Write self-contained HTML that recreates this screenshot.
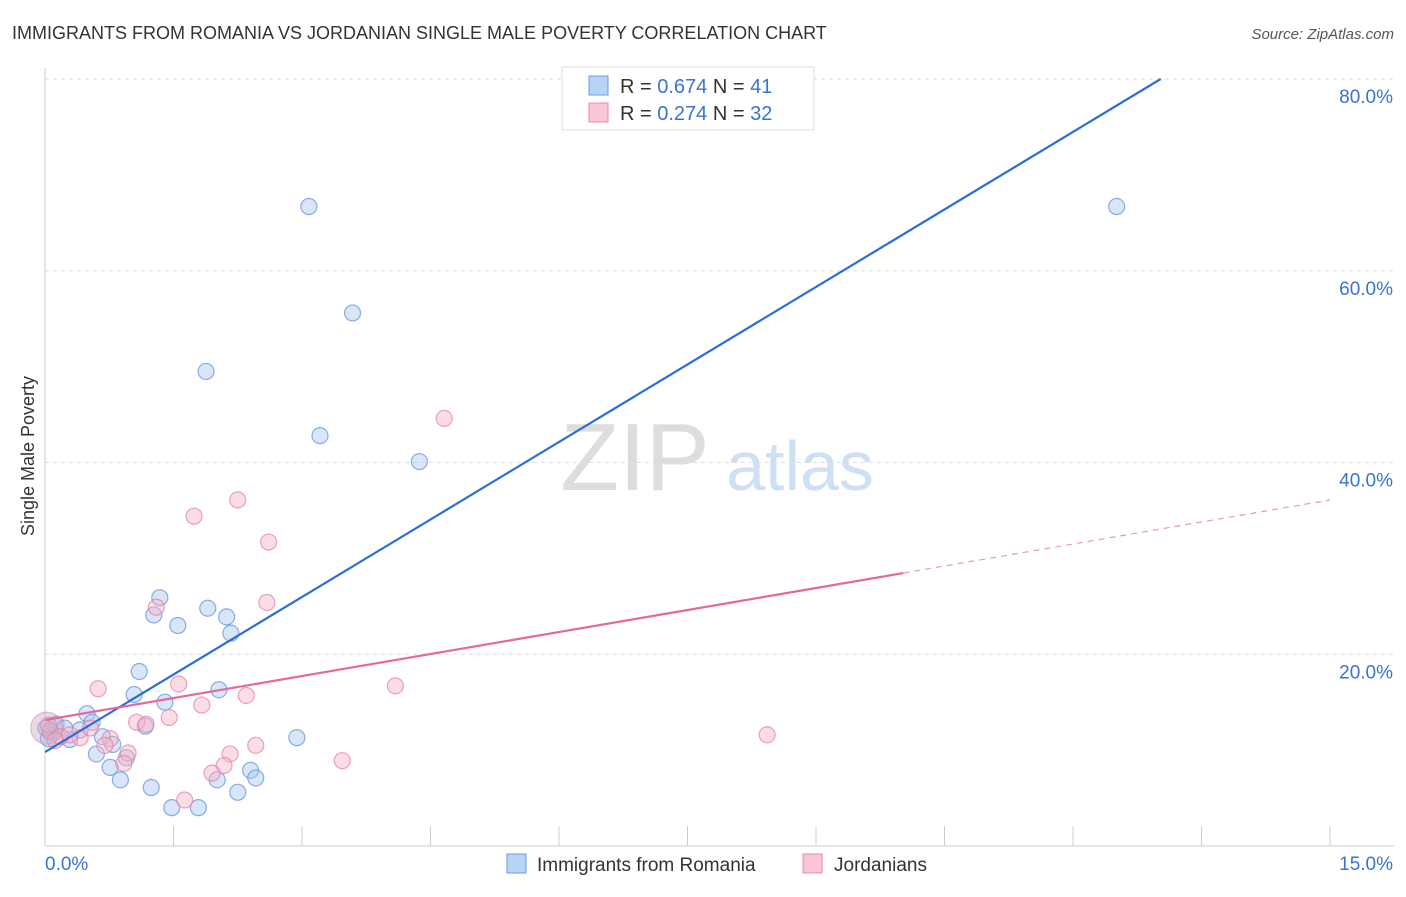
<!DOCTYPE html>
<html><head><meta charset="utf-8"><style>
body{margin:0;background:#fff;font-family:"Liberation Sans",sans-serif;}
svg text{font-family:"Liberation Sans",sans-serif;}
</style></head><body>
<svg id="chart" width="1406" height="892">
<text x="12" y="39" font-size="18" fill="#333">IMMIGRANTS FROM ROMANIA VS JORDANIAN SINGLE MALE POVERTY CORRELATION CHART</text>
<text x="1394" y="39" font-size="15" fill="#555" text-anchor="end" font-style="italic">Source: ZipAtlas.com</text>
<text x="34" y="456" font-size="18" fill="#333" text-anchor="middle" transform="rotate(-90 34 456)">Single Male Poverty</text>
<g><text x="635" y="490" font-size="96" fill="#ddd" font-family="Liberation Serif" text-anchor="middle">ZIP</text><text x="800" y="490" font-size="70" fill="#cfe0f4" text-anchor="middle">atlas</text></g>
<g id="grid"></g><g id="axes"></g><g id="pts"></g><g id="lines"></g>
<g>
<rect x="562" y="67" width="252" height="63" fill="#fff" stroke="#ddd"/>
<rect x="589" y="76" width="19" height="19" fill="#b9d3f5" stroke="#6b9be0"/>
<text x="620" y="93" font-size="20" fill="#333">R = <tspan fill="#3a74d0">0.674</tspan>   N =  <tspan fill="#3a74d0">41</tspan></text>
<rect x="589" y="103" width="19" height="19" fill="#f8c6d6" stroke="#e88aa8"/>
<text x="620" y="120" font-size="20" fill="#333">R = <tspan fill="#3a74d0">0.274</tspan>   N =  <tspan fill="#3a74d0">32</tspan></text>
</g>
<g>
<rect x="507" y="854" width="19" height="19" fill="#b9d3f5" stroke="#6b9be0"/>
<text x="537" y="871" font-size="19" fill="#333">Immigrants from Romania</text>
<rect x="803" y="854" width="19" height="19" fill="#f8c6d6" stroke="#e88aa8"/>
<text x="834" y="871" font-size="19" fill="#333">Jordanians</text>
</g>
</svg>
<script>
const xTicks=[0,1.5,3,4.5,6,7.5,9,10.5,12,13.5,15];
const yTicks=[20,40,60,80];
const blueX=[3.08,12.51,3.59,1.88,3.21,4.37,1.34,1.27,1.90,1.55,2.12,2.17,1.10,1.04,2.03,1.40,1.17,0.49,0.55,0.13,0.06,0.18,0.29,0.67,0.79,2.94,0.60,0.95,0.76,0.88,2.40,2.46,2.01,1.24,2.25,1.48,1.79,0.04,0.23,0.41,0.01];
const blueY=[66.7,66.7,55.6,49.5,42.8,40.1,25.9,24.1,24.8,23.0,23.9,22.2,18.2,15.8,16.3,15.0,12.5,13.8,12.9,12.7,11.9,11.4,11.1,11.4,10.6,11.3,9.6,9.2,8.2,6.9,7.9,7.1,6.9,6.1,5.6,4.0,4.0,11.2,12.3,12.1,12.3];
const pinkX=[4.66,2.25,1.74,2.61,2.59,1.30,1.56,0.62,1.83,2.35,1.45,1.07,1.18,4.09,8.43,2.46,0.76,0.41,2.16,0.97,3.47,2.09,1.95,0.92,1.63,0.06,0.18,0.04,0.29,0.53,0.70,0.12];
const pinkY=[44.6,36.1,34.4,31.7,25.4,24.9,16.9,16.4,14.7,15.7,13.4,12.9,12.7,16.7,11.6,10.5,11.2,11.3,9.6,9.7,8.9,8.4,7.6,8.6,4.8,12.0,11.4,12.6,11.6,12.3,10.5,11.0];
const blueFit=[9.8,5.39], pinkFit=[13.14,1.53], pinkSolidEnd=10.02;
const X=v=>45+v/15*1285, Y=v=>846-v*9.5875;
const NS='http://www.w3.org/2000/svg';
function mk(p,t,a){const e=document.createElementNS(NS,t);for(const k in a)e.setAttribute(k,a[k]);p.appendChild(e);return e;}
const grid=document.getElementById('grid'),axes=document.getElementById('axes'),pts=document.getElementById('pts'),lines=document.getElementById('lines');
yTicks.forEach(v=>{const l=mk(grid,'line',{x1:45,x2:1394,y1:Y(v),y2:Y(v),stroke:'#ddd','stroke-dasharray':'4,4'});


const t=mk(axes,'text',{x:1393,y:Y(v)+24,'font-size':19,fill:'#3a74d0','text-anchor':'end'});t.textContent=v.toFixed(1)+'%';

});
const ax=mk(axes,'line',{x1:45,x2:1394,y1:846,y2:846,stroke:'#ccc'});


const ay=mk(axes,'line',{x1:45,x2:45,y1:68,y2:846,stroke:'#ccc'});


xTicks.forEach(v=>{const l=mk(axes,'line',{x1:X(v),x2:X(v),y1:826,y2:846,stroke:'#ccc'});

});
[[0,'0.0%','start',45],[15,'15.0%','end',1393]].forEach(a=>{const t=mk(axes,'text',{x:a[3],y:870,'font-size':19,fill:'#3a74d0','text-anchor':a[2]});t.textContent=a[1];

});
function dots(xs,ys,fill,stroke,name){xs.forEach((x,i)=>{const c=mk(pts,'circle',{cx:X(x),cy:Y(ys[i]),r:8,fill:fill,'fill-opacity':0.45,stroke:stroke,'stroke-opacity':0.7,'stroke-width':1.2});

});}
dots(blueX,blueY,'#a9c8f0','#5a8fdc','romania-point');
dots(pinkX,pinkY,'#f6b3c8','#e57c9f','jordanian-point');
const big=mk(pts,'circle',{cx:X(0.02),cy:Y(12.3),r:16,fill:'#c7a9c6','fill-opacity':0.45,stroke:'#d08aa8','stroke-opacity':0.6});


const bEnd=(80-blueFit[0])/blueFit[1];
const bl=mk(lines,'line',{x1:X(0),y1:Y(blueFit[0]),x2:X(bEnd),y2:Y(80),stroke:'#2a6fd6','stroke-width':2.2});


const pl=mk(lines,'line',{x1:X(0),y1:Y(pinkFit[0]),x2:X(pinkSolidEnd),y2:Y(pinkFit[0]+pinkFit[1]*pinkSolidEnd),stroke:'#e5689a','stroke-width':2.2});


const pd=mk(lines,'line',{x1:X(pinkSolidEnd),y1:Y(pinkFit[0]+pinkFit[1]*pinkSolidEnd),x2:X(15),y2:Y(pinkFit[0]+pinkFit[1]*15),stroke:'#e89ab5','stroke-width':1.2,'stroke-dasharray':'6,5'});


</script>
</body></html>
